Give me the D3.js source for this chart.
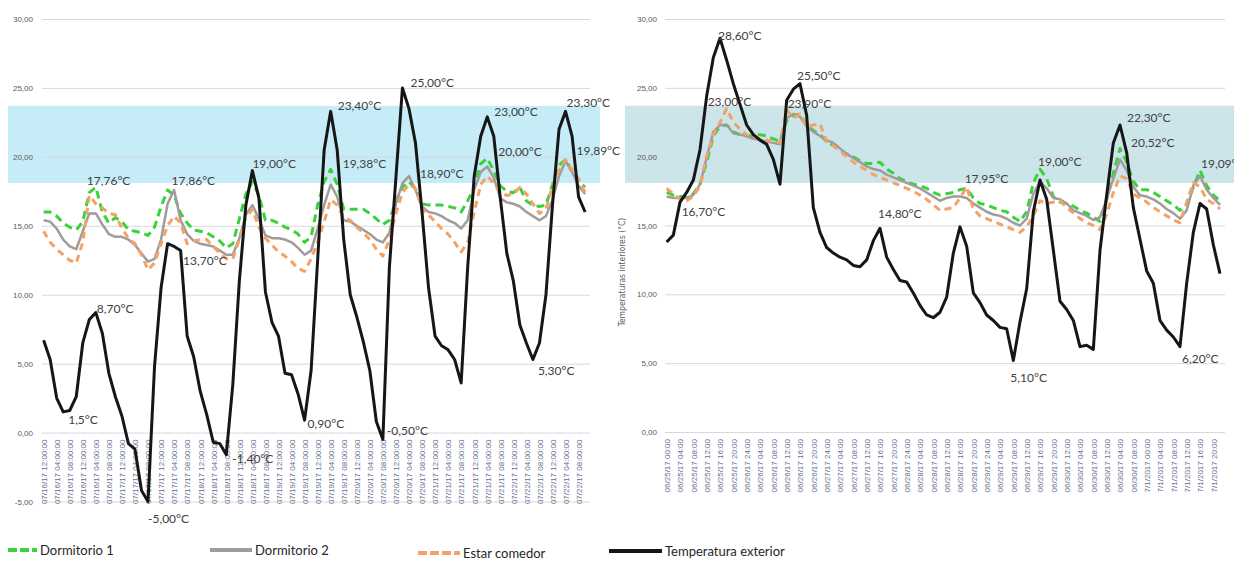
<!DOCTYPE html>
<html lang="es">
<head>
    <meta charset="UTF-8">
    <title>Temperaturas interiores y exteriores</title>
    <script src="https://cdnjs.cloudflare.com/ajax/libs/d3/7.8.5/d3.min.js"></script>
    <style>
        body { margin: 0; background: #fff; }
        svg { display: block; font-family: "DejaVu Sans Condensed", "DejaVu Sans", sans-serif; }
        .nota, .leyenda-texto { font-family: Lato, "Open Sans", sans-serif; }
    </style>
</head>
<body>
    <div id="wrapper"></div>
    <script>
        // hora de cada lectura (una cada 2 h, 7 dias)
        const horas = d3.range(0, 168, 2)

        // ---- panel izquierdo (julio) ----
        const etiquetasXIzq = [
            '07/16/17 12:00:00','07/16/17 04:00:00','07/16/17 08:00:00','07/16/17 12:00:00','07/16/17 04:00:00','07/16/17 08:00:00',
            '07/17/17 12:00:00','07/17/17 04:00:00','07/17/17 08:00:00','07/17/17 12:00:00','07/17/17 04:00:00','07/17/17 08:00:00',
            '07/18/17 12:00:00','07/18/17 04:00:00','07/18/17 08:00:00','07/18/17 12:00:00','07/18/17 04:00:00','07/18/17 08:00:00',
            '07/19/17 12:00:00','07/19/17 04:00:00','07/19/17 08:00:00','07/19/17 12:00:00','07/19/17 04:00:00','07/19/17 08:00:00',
            '07/20/17 12:00:00','07/20/17 04:00:00','07/20/17 08:00:00','07/20/17 12:00:00','07/20/17 04:00:00','07/20/17 08:00:00',
            '07/21/17 12:00:00','07/21/17 04:00:00','07/21/17 08:00:00','07/21/17 12:00:00','07/21/17 04:00:00','07/21/17 08:00:00',
            '07/22/17 12:00:00','07/22/17 04:00:00','07/22/17 08:00:00','07/22/17 12:00:00','07/22/17 04:00:00','07/22/17 08:00:00'
        ]
        const ticksYIzq = [-5, 0, 5, 10, 15, 20, 25, 30]
        const etiquetasYIzq = ['-5,00', '0,00', '5,00', '10,00', '15,00', '20,00', '25,00', '30,00']

        const dormitorio1Izq = [
            16.0,16.0,15.7,15.2,14.9,14.7,15.3,17.4,17.8,16.0,
            15.2,15.6,15.3,14.7,14.6,14.5,14.3,14.9,16.4,17.6,
            17.2,15.9,15.2,14.7,14.6,14.5,14.2,13.9,13.4,13.7,
            15.5,17.3,18.2,17.2,15.4,15.4,15.2,14.9,14.7,14.4,
            13.8,14.2,16.5,18.2,19.1,18.0,16.2,16.2,16.2,16.2,
            15.9,15.5,15.1,15.4,16.8,17.8,18.2,17.7,16.6,16.5,
            16.5,16.5,16.4,16.3,16.0,16.8,17.8,19.5,19.9,19.0,
            17.9,17.5,17.4,17.8,16.8,16.5,16.4,16.5,18.0,19.4,
            19.8,19.0,18.2,17.8
        ]
        const dormitorio2Izq = [
            15.4,15.3,14.8,14.0,13.5,13.3,14.6,15.9,15.9,15.1,
            14.4,14.2,14.2,14.0,13.6,13.0,12.4,12.6,14.0,16.6,
            17.6,15.4,14.4,13.9,13.7,13.6,13.5,13.2,12.9,12.9,
            14.1,15.8,16.5,15.5,14.3,14.1,14.1,14.0,13.8,13.4,
            12.9,13.2,14.8,16.5,18.0,17.1,15.4,15.3,15.0,14.7,
            14.4,14.0,13.8,14.5,16.6,18.1,18.6,17.6,16.4,16.0,
            15.9,15.7,15.4,15.2,14.8,15.4,17.6,18.9,19.3,18.5,
            17.0,16.7,16.6,16.4,16.0,15.7,15.4,15.7,16.9,18.6,
            19.7,18.9,17.9,17.3
        ]
        const estarComedorIzq = [
            14.6,13.8,13.3,12.9,12.5,12.3,13.8,17.2,16.6,16.3,
            15.9,15.8,14.8,14.1,13.7,12.9,11.8,12.3,13.7,15.0,
            15.7,15.2,13.7,13.9,14.0,14.0,13.5,13.0,12.6,12.6,
            14.0,15.6,16.2,14.9,14.1,13.6,13.1,12.8,12.4,11.9,
            11.7,12.6,13.8,15.3,16.9,16.5,15.6,15.4,14.9,14.5,
            14.0,13.3,12.8,14.0,15.9,17.4,18.0,17.7,16.2,15.8,
            15.3,14.8,14.4,13.8,13.1,13.8,16.0,18.0,18.6,18.1,
            17.4,17.2,17.3,17.8,17.3,16.6,15.9,16.2,17.9,19.0,
            19.8,19.1,18.4,17.4
        ]
        const exteriorIzq = [
            6.7,5.3,2.5,1.5,1.6,2.6,6.5,8.2,8.7,7.2,
            4.3,2.6,1.2,-0.8,-1.2,-4.2,-5.0,4.8,10.5,13.7,
            13.5,13.2,7.0,5.5,3.0,1.3,-0.7,-0.8,-1.6,3.5,
            11.0,16.5,19.0,17.0,10.2,8.0,7.0,4.3,4.2,2.8,
            0.9,4.5,12.5,20.5,23.3,20.5,14.0,10.0,8.4,6.6,
            4.5,0.8,-0.5,12.0,18.5,25.0,23.5,21.0,16.0,10.5,
            7.0,6.3,6.0,5.3,3.6,12.0,18.6,21.5,22.9,21.5,
            17.0,13.0,11.0,7.8,6.5,5.3,6.5,10.0,16.5,22.0,
            23.3,21.5,17.1,16.0
        ]
        // [hora, valor, texto]
        const anotacionesIzq = [
            [16, 8.7, '8,70°C'], [6, 1.5, '1,5°C'], [32, -5, '-5,00°C'], [40, 13.7, '13,70°C'],
            [56, -1.4, '-1,40°C'], [16, 17.76, '17,76°C'], [38, 17.86, '17,86°C'], [64, 19, '19,00°C'],
            [80, 0.9, '0,90°C'], [88, 23.4, '23,40°C'], [88, 19.38, '19,38°C'], [110, 25, '25,00°C'],
            [104, -0.5, '-0,50°C'], [112, 18.9, '18,90°C'], [136, 23, '23,00°C'], [136, 20, '20,00°C'],
            [150, 5.3, '5,30°C'], [160, 23.3, '23,30°C'], [160, 19.89, '19,89°C']
        ]

        // ---- panel derecho (junio-julio) ----
        const etiquetasXDer = [
            '06/25/17 00:00','06/25/17 04:00','06/25/17 08:00','06/25/17 12:00','06/25/17 16:00','06/25/17 20:00',
            '06/26/17 24:00','06/26/17 04:00','06/26/17 08:00','06/26/17 12:00','06/26/17 16:00','06/26/17 20:00',
            '06/27/17 24:00','06/27/17 04:00','06/27/17 08:00','06/27/17 12:00','06/27/17 16:00','06/27/17 20:00',
            '06/28/17 24:00','06/28/17 04:00','06/28/17 08:00','06/28/17 12:00','06/28/17 16:00','06/28/17 20:00',
            '06/29/17 24:00','06/29/17 04:00','06/29/17 08:00','06/29/17 12:00','06/29/17 16:00','06/29/17 20:00',
            '06/30/17 12:00','06/30/17 04:00','06/30/17 08:00','06/30/17 12:00','06/30/17 04:00','06/30/17 08:00',
            '7/1/2017 00:00','7/1/2017 04:00','7/1/2017 08:00','7/1/2017 12:00','7/1/2017 16:00','7/1/2017 20:00'
        ]
        const ticksYDer = [0, 5, 10, 15, 20, 25, 30]
        const etiquetasYDer = ['0,00', '5,00', '10,00', '15,00', '20,00', '25,00', '30,00']

        const dormitorio1Der = [
            17.4,17.2,17.1,17.1,17.3,18.0,19.6,21.5,22.2,22.3,
            21.8,21.6,21.5,21.5,21.6,21.5,21.3,21.1,22.6,23.0,
            23.1,22.3,21.9,21.6,21.1,20.8,20.5,20.2,20.0,19.7,
            19.5,19.5,19.6,19.1,18.8,18.4,18.2,18.0,17.9,17.7,
            17.4,17.2,17.3,17.4,17.6,17.7,17.0,16.6,16.5,16.3,
            16.1,16.0,15.6,15.3,16.0,18.1,19.1,18.4,17.1,16.7,
            16.6,16.4,16.1,15.9,15.6,15.3,16.9,18.8,20.6,19.6,
            18.2,17.6,17.6,17.4,17.1,16.8,16.5,16.1,16.5,17.8,
            19.0,17.9,17.2,16.8
        ]
        const dormitorio2Der = [
            17.1,17.0,17.0,17.0,17.2,18.0,19.9,21.8,22.3,22.3,
            21.7,21.6,21.5,21.3,21.2,21.1,21.0,20.9,22.8,23.1,
            22.9,22.2,21.8,21.5,21.2,21.0,20.6,20.2,19.9,19.6,
            19.3,19.1,19.0,18.7,18.5,18.3,18.1,17.9,17.7,17.4,
            17.1,16.8,17.0,17.1,17.1,17.0,16.6,16.3,16.0,15.8,
            15.7,15.5,15.2,15.0,15.5,17.3,18.2,17.7,17.0,16.9,
            16.6,16.1,15.9,15.7,15.4,15.6,16.9,18.4,19.8,19.0,
            17.8,17.2,17.1,16.9,16.6,16.2,15.9,15.5,16.1,17.9,
            18.6,17.6,17.0,16.5
        ]
        const estarComedorDer = [
            17.7,17.3,16.9,16.8,17.1,17.9,20.0,21.6,22.5,23.5,
            22.5,22.0,21.6,21.4,21.3,21.2,21.1,21.0,23.4,22.8,
            23.1,22.2,22.3,22.4,21.1,20.8,20.4,20.0,19.6,19.3,
            19.0,18.7,18.5,18.3,18.1,17.9,17.7,17.5,17.2,16.9,
            16.5,16.1,16.2,16.3,17.0,17.8,16.2,15.7,15.5,15.3,
            15.1,14.9,14.7,14.5,14.9,15.7,16.8,16.6,16.7,16.8,
            16.3,15.9,15.5,15.2,15.0,14.7,15.8,17.4,18.6,18.4,
            17.3,17.0,16.7,16.3,16.0,15.7,15.4,15.2,16.7,18.1,
            17.8,16.9,16.6,16.2
        ]
        const exteriorDer = [
            13.8,14.3,16.7,17.4,18.3,20.5,24.4,27.2,28.6,27.0,
            25.3,23.8,22.3,21.6,21.2,20.9,19.8,18.0,24.1,24.9,
            25.3,23.0,16.3,14.5,13.4,13.0,12.7,12.5,12.1,12.0,
            12.5,13.9,14.8,12.7,11.8,11.0,10.9,10.1,9.2,8.5,
            8.3,8.7,9.8,13.0,14.9,13.5,10.1,9.4,8.5,8.1,
            7.6,7.5,5.2,8.0,10.4,16.0,18.3,16.9,13.2,9.5,
            8.9,8.1,6.2,6.3,6.0,13.2,17.2,21.0,22.3,20.3,
            16.3,14.0,11.7,10.8,8.1,7.4,6.9,6.2,10.8,14.5,
            16.6,16.2,13.6,11.5
        ]
        const anotacionesDer = [
            [16, 28.6, '28,60°C'], [40, 25.5, '25,50°C'], [18, 23, '23,00°C'], [36, 23.9, '23,90°C'],
            [6, 16.7, '16,70°C'], [64, 14.8, '14,80°C'], [90, 17.95, '17,95°C'], [112, 19, '19,00°C'],
            [136, 22.3, '22,30°C'], [136, 20.52, '20,52°C'], [160, 19.09, '19,09°C'], [104, 5.1, '5,10°C'],
            [154, 6.2, '6,20°C']
        ]

        // banda de confort (°C)
        const banda = [18.1, 23.7]
        const nombresSeries = ['Dormitorio 1', 'Dormitorio 2', 'Estar comedor', 'Temperatura exterior']

        // estilos de cada serie
        const estilos = [
            { color: '#3ad23a', width: 3, dash: '8,5' },
            { color: '#a19b9b', width: 2.5, dash: null },
            { color: '#f4a268', width: 3, dash: '7,5' },
            { color: '#161616', width: 3, dash: null }
        ]

        const svg = d3.select('#wrapper')
            .append('svg')
                .attr('width', 1234)
                .attr('height', 561)

        function drawPanel(p) {
            const xScale = d3.scaleLinear()
                .domain([-0.5, 167.5])
                .range([p.left, p.right])
            const yScale = d3.scaleLinear()
                .domain(p.yDomain)
                .range([p.bottom, p.top])

            const g = svg.append('g')

            // banda de confort
            g.append('rect')
                .attr('x', p.bandLeft)
                .attr('width', p.bandRight - p.bandLeft)
                .attr('y', yScale(banda[1]))
                .attr('height', yScale(banda[0]) - yScale(banda[1]))
                .attr('fill', p.bandColor)

            // lineas de cuadricula
            const grid = g.append('g')
                .attr('transform', `translate(${p.left},0)`)
                .call(d3.axisLeft(yScale).tickValues(p.yTicks).tickSize(-(p.right - p.left)).tickFormat(''))
            grid.select('.domain').remove()
            grid.selectAll('line').attr('stroke', '#d9d9d9')

            const yAxis = g.append('g')
                .attr('transform', `translate(${p.left},0)`)
                .call(d3.axisLeft(yScale).tickValues(p.yTicks).tickSize(0).tickPadding(p.yPad)
                    .tickFormat((d, i) => p.yLabels[i]))
            yAxis.select('.domain').remove()
            yAxis.selectAll('text')
                .attr('fill', '#595959')
                .style('font-size', '8px')
                .style('font-family', 'inherit')

            // eje x en 0
            const xAxis = g.append('g')
                .attr('transform', `translate(0,${yScale(0)})`)
                .call(d3.axisBottom(xScale).tickValues(p.xLabels.map((d, i) => i * 4)).tickSize(0)
                    .tickFormat((d, i) => p.xLabels[i]))
            xAxis.select('.domain').remove()
            xAxis.selectAll('text')
                .attr('transform', 'rotate(-90)')
                .attr('x', -7)
                .attr('y', 0)
                .attr('dy', '0.35em')
                .style('text-anchor', 'end')
                .style('font-size', '8px')
                .style('font-family', 'inherit')
                .attr('fill', '#65708f')

            const lineGenerator = d3.line()
                .x((d, i) => xScale(horas[i]))
                .y(d => yScale(d))

            p.series.forEach((s, i) => {
                g.append('path')
                    .attr('d', lineGenerator(s))
                    .attr('fill', 'none')
                    .attr('stroke', estilos[i].color)
                    .attr('stroke-width', estilos[i].width)
                    .attr('stroke-dasharray', estilos[i].dash)
                    .attr('stroke-linejoin', 'round')
            })

            g.selectAll('.nota')
                .data(p.notes)
                .join('text')
                    .attr('class', 'nota')
                    .attr('x', (d, i) => xScale(d[0]) + p.offsets[i][0])
                    .attr('y', (d, i) => yScale(d[1]) + p.offsets[i][1])
                    .text(d => d[2])
                    .attr('fill', '#404040')
                    .style('font-size', '12px')

            if (p.title) {
                g.append('text')
                    .attr('transform', `translate(${p.titleX},${p.titleY}) rotate(-90)`)
                    .attr('text-anchor', 'middle')
                    .attr('fill', '#595959')
                    .style('font-size', '8.5px')
                    .text(p.title)
            }
        }

        drawPanel({
            left: 42, right: 590, top: 19, bottom: 501.5,
            yDomain: [-5, 30], yTicks: ticksYIzq, yLabels: etiquetasYIzq, yPad: 9,
            xLabels: etiquetasXIzq,
            bandLeft: 8, bandRight: 600, bandColor: '#c6edf7',
            series: [dormitorio1Izq, dormitorio2Izq, estarComedorIzq, exteriorIzq],
            notes: anotacionesIzq,
            offsets: [[1,0],[5,12],[0,21],[9,21],[6,11],[-9,-3],[4,-1],[0,-3],[3,8],[7,0],[12,3],[8,-1],[4,-4],[11,6],[7,0],[11,-1],[5,15],[1,-4],[11,-3]]
        })

        drawPanel({
            left: 665, right: 1225, top: 19, bottom: 432,
            yDomain: [0, 30], yTicks: ticksYDer, yLabels: etiquetasYDer, yPad: 8,
            xLabels: etiquetasXDer,
            bandLeft: 625, bandRight: 1234, bandColor: '#cce5eb',
            series: [dormitorio1Der, dormitorio2Der, estarComedorDer, exteriorDer],
            notes: anotacionesDer,
            offsets: [[-2,2],[-3,-1],[-19,-9],[1,5],[-5,14],[-2,-10],[-2,-2],[-2,-4],[7,-3],[11,-3],[1,-1],[-3,20],[2,16]],
            title: 'Temperaturas interiores (°C)', titleX: 625, titleY: 272
        })

        // leyenda
        const leyenda = svg.append('g')
        const posLeyenda = [[8, 37, 550], [210, 252, 550], [418, 460, 553], [609, 662, 551]]
        nombresSeries.forEach((nombre, i) => {
            const [x1, x2, y] = posLeyenda[i]
            leyenda.append('line')
                .attr('x1', x1).attr('x2', x2)
                .attr('y1', y).attr('y2', y)
                .attr('stroke', estilos[i].color)
                .attr('stroke-width', 4)
                .attr('stroke-dasharray', estilos[i].dash ? '9,3' : null)
            leyenda.append('text')
                .attr('class', 'leyenda-texto')
                .attr('x', x2 + 3)
                .attr('y', y)
                .attr('dy', '0.35em')
                .attr('fill', '#262626')
                .style('font-size', '13px')
                .text(nombre)
        })
    </script>
</body>
</html>
